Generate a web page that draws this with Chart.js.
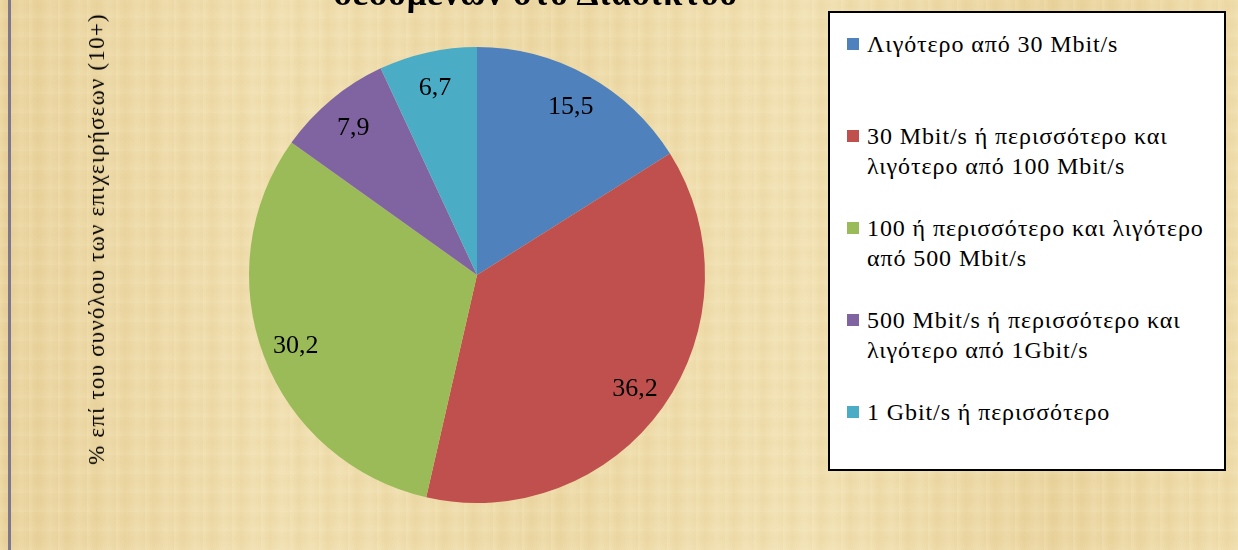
<!DOCTYPE html>
<html>
<head>
<meta charset="utf-8">
<script src="https://cdn.jsdelivr.net/npm/chart.js@4.4.1/dist/chart.umd.min.js"></script>
<style>
  html, body { margin: 0; padding: 0; }
  body {
    width: 1238px; height: 550px; overflow: hidden; position: relative;
    background-color: #eedba8;
    background-image:
      repeating-linear-gradient(90deg, rgba(255,248,220,0.18) 0px, rgba(255,248,220,0) 5px, rgba(205,170,100,0.06) 9px, rgba(255,248,220,0) 14px, rgba(255,250,228,0.12) 21px, rgba(255,248,220,0) 29px),
      repeating-linear-gradient(0deg, rgba(255,250,232,0.08) 0px, rgba(255,250,232,0) 6px, rgba(195,160,95,0.04) 12px, rgba(255,250,232,0) 19px),
      linear-gradient(90deg, #e9d29b 0%, #f0deae 22%, #ecd8a4 45%, #f1e0b1 65%, #ead49e 85%, #efdcaa 100%);
  }
  .serif { font-family: "Liberation Serif", "Times New Roman", "DejaVu Serif", serif; }
  #edge { position: absolute; left: 8px; top: 0; width: 3px; height: 550px; background: #7e7790; }
  #wrap { position: absolute; left: 0; top: 0; width: 1238px; height: 550px; }
  #title {
    position: absolute; left: 286px; top: -26px; width: 500px; text-align: center;
    font-weight: bold; font-size: 35px; letter-spacing: 1px; color: #000; white-space: nowrap;
  }
  #ylab {
    position: absolute; left: 97px; top: 239px; white-space: nowrap;
    font-size: 23px; letter-spacing: 1.2px; color: #000;
    transform: translate(-50%, -50%) rotate(-90deg);
  }
  #legend {
    position: absolute; left: 828px; top: 11px; width: 398px; height: 460px;
    background: #fff; border: 2px solid #000; box-sizing: border-box;
  }
  .item { position: absolute; left: 37px; font-size: 24px; letter-spacing: 0.9px; line-height: 30px; color: #000; white-space: nowrap; }
  .box { position: absolute; left: -20px; top: 9px; width: 12px; height: 12px; }
</style>
</head>
<body>
<div id="edge"></div>
<div id="wrap"><canvas id="pie" width="1238" height="550"></canvas></div>
<div id="title" class="serif">δεδομένων στο Διαδίκτυο</div>
<div id="ylab" class="serif">% επί του συνόλου των επιχειρήσεων (10+)</div>
<div id="legend" class="serif"></div>
<script>
const categories = [
  'Λιγότερο από 30 Mbit/s',
  '30 Mbit/s ή περισσότερο και λιγότερο από 100 Mbit/s',
  '100 ή περισσότερο και λιγότερο από 500 Mbit/s',
  '500 Mbit/s ή περισσότερο και λιγότερο από 1Gbit/s',
  '1 Gbit/s ή περισσότερο'
];
const legendLines = [
  ['Λιγότερο από 30 Mbit/s'],
  ['30 Mbit/s ή περισσότερο και', 'λιγότερο από 100 Mbit/s'],
  ['100 ή περισσότερο και λιγότερο', 'από 500 Mbit/s'],
  ['500 Mbit/s ή περισσότερο και', 'λιγότερο από 1Gbit/s'],
  ['1 Gbit/s ή περισσότερο']
];
const values = [15.5, 36.2, 30.2, 7.9, 6.7];
const colors = ['#4f81bd', '#c0504d', '#9bbb59', '#8064a2', '#4bacc6'];

// legend (HTML, positioned like the original)
const legendTops = [16, 108, 200, 292, 384];
const legend = document.getElementById('legend');
legendLines.forEach((lines, i) => {
  const d = document.createElement('div');
  d.className = 'item';
  d.style.top = legendTops[i] + 'px';
  d.innerHTML = '<span class="box" style="background:' + colors[i] + '"></span>' + lines.join('<br>');
  legend.appendChild(d);
});

// values drawn inside slices
const sliceLabels = {
  id: 'sliceLabels',
  afterDatasetsDraw(chart) {
    const ctx = chart.ctx;
    const meta = chart.getDatasetMeta(0);
    ctx.save();
    ctx.font = '26px "Liberation Serif", "Times New Roman", serif';
    ctx.fillStyle = '#000';
    ctx.textAlign = 'center';
    ctx.textBaseline = 'middle';
    meta.data.forEach((arc, i) => {
      const p = arc.getProps(['x', 'y', 'startAngle', 'endAngle', 'outerRadius'], true);
      const mid = (p.startAngle + p.endAngle) / 2;
      const r = p.outerRadius * 0.85;
      const txt = values[i].toFixed(1).replace('.', ',');
      ctx.fillText(txt, p.x + Math.cos(mid) * r, p.y + Math.sin(mid) * r + 2);
    });
    ctx.restore();
  }
};

new Chart(document.getElementById('pie'), {
  type: 'pie',
  data: {
    labels: categories,
    datasets: [{
      data: values,
      backgroundColor: colors,
      borderWidth: 0
    }]
  },
  options: {
    responsive: false,
    animation: false,
    layout: { padding: { top: 47, bottom: 47, left: 249, right: 533 } },
    plugins: {
      legend: { display: false },
      tooltip: { enabled: false }
    }
  },
  plugins: [sliceLabels]
});
</script>
</body>
</html>
